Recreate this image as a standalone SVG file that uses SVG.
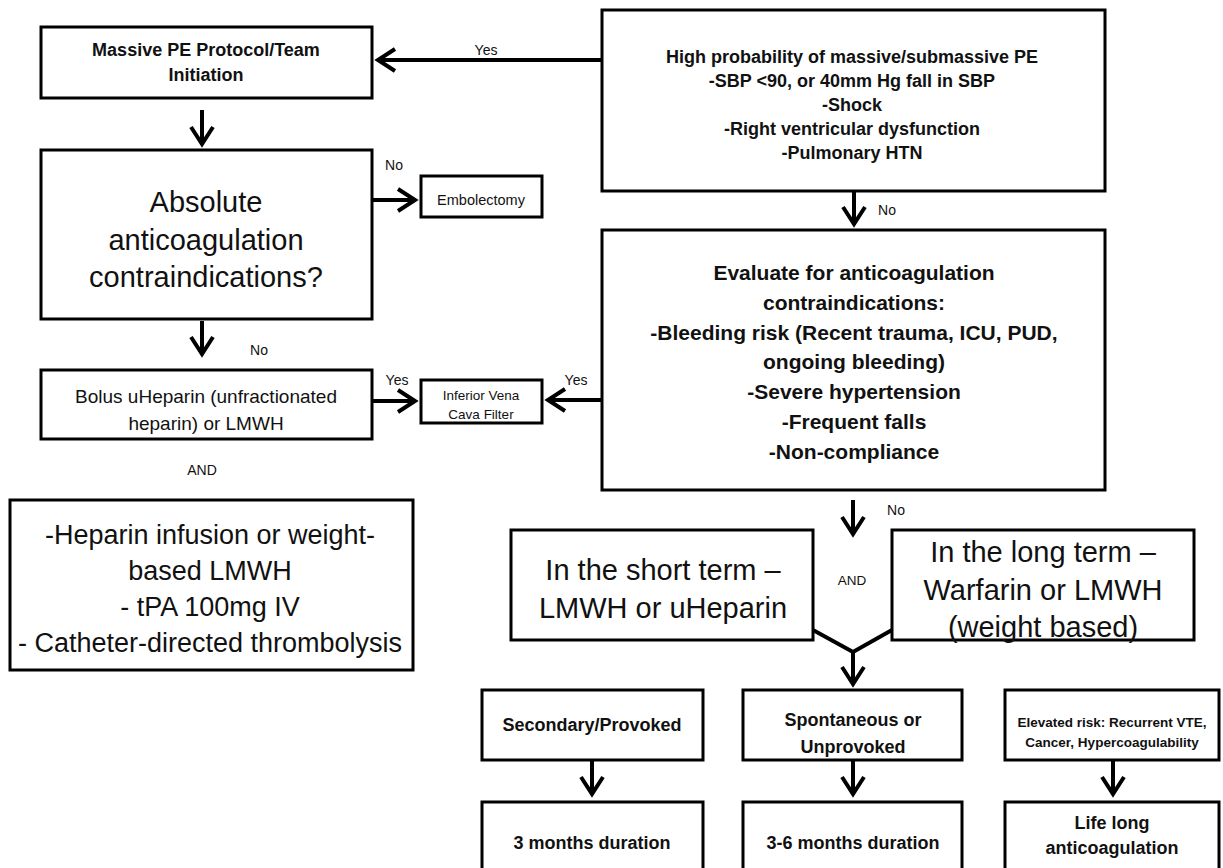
<svg xmlns="http://www.w3.org/2000/svg" width="1223" height="868" viewBox="0 0 1223 868">
  <style>
    .box { fill: #fff; stroke: #000; stroke-width: 3; }
    .t { font-family: "Liberation Sans", Arial, sans-serif; fill: #111; text-anchor: middle; }
    .b { font-weight: bold; }
    .lbl { font-family: "Liberation Sans", Arial, sans-serif; fill: #111; font-size: 14px; text-anchor: middle; }
    .wire { fill: none; stroke: #000; stroke-width: 4; }
  </style>
  <defs>
    <marker id="ah" viewBox="-20 -14 26 28" markerWidth="26" markerHeight="28" refX="0" refY="0" orient="auto" markerUnits="userSpaceOnUse">
      <path d="M-17,-11 L0,0 L-17,11" fill="none" stroke="#000" stroke-width="4" stroke-linejoin="miter"/>
    </marker>
  </defs>
  <rect width="1223" height="868" fill="#fff"/>

  <!-- connectors -->
  <g id="connectors">
    <line class="wire" x1="602" y1="60" x2="378" y2="60" marker-end="url(#ah)"/>
    <line class="wire" x1="202" y1="110" x2="202" y2="144" marker-end="url(#ah)"/>
    <line class="wire" x1="373" y1="200" x2="415" y2="200" marker-end="url(#ah)"/>
    <line class="wire" x1="202" y1="321" x2="202" y2="354" marker-end="url(#ah)"/>
    <line class="wire" x1="373" y1="401" x2="415" y2="401" marker-end="url(#ah)"/>
    <line class="wire" x1="601" y1="400" x2="548" y2="400" marker-end="url(#ah)"/>
    <line class="wire" x1="854" y1="192" x2="854" y2="224" marker-end="url(#ah)"/>
    <line class="wire" x1="853" y1="500" x2="853" y2="534" marker-end="url(#ah)"/>
    <polyline class="wire" points="813,630 853,652 892,630"/>
    <line class="wire" x1="853" y1="652" x2="853" y2="684" marker-end="url(#ah)"/>
    <line class="wire" x1="592" y1="761" x2="592" y2="794" marker-end="url(#ah)"/>
    <line class="wire" x1="853" y1="761" x2="853" y2="794" marker-end="url(#ah)"/>
    <line class="wire" x1="1113" y1="761" x2="1113" y2="794" marker-end="url(#ah)"/>

    <text class="lbl" x="486" y="55">Yes</text>
    <text class="lbl" x="394" y="170">No</text>
    <text class="lbl" x="259" y="355">No</text>
    <text class="lbl" x="397" y="385">Yes</text>
    <text class="lbl" x="576" y="385">Yes</text>
    <text class="lbl" x="202" y="475">AND</text>
    <text class="lbl" x="887" y="215">No</text>
    <text class="lbl" x="896" y="515">No</text>
    <text class="lbl" x="852" y="585" style="font-size:13.5px">AND</text>
  </g>

  <g id="massive-pe">
    <rect class="box" x="41" y="27" width="331" height="71"/>
    <text class="t b" font-size="18" x="206" y="56">Massive PE Protocol/Team</text>
    <text class="t b" font-size="18" x="206" y="81">Initiation</text>
  </g>

  <g id="high-probability">
    <rect class="box" x="602" y="10" width="503" height="181"/>
    <text class="t b" font-size="18" x="852" y="63">High probability of massive/submassive PE</text>
    <text class="t b" font-size="18" x="852" y="87">-SBP &lt;90, or 40mm Hg fall in SBP</text>
    <text class="t b" font-size="18" x="852" y="111">-Shock</text>
    <text class="t b" font-size="18" x="852" y="135">-Right ventricular dysfunction</text>
    <text class="t b" font-size="18" x="852" y="159">-Pulmonary HTN</text>
  </g>

  <g id="absolute-contraindications">
    <rect class="box" x="41" y="150" width="331" height="169"/>
    <text class="t" font-size="29" x="206" y="212">Absolute</text>
    <text class="t" font-size="29" x="206" y="250">anticoagulation</text>
    <text class="t" font-size="29" x="206" y="287">contraindications?</text>
  </g>

  <g id="embolectomy">
    <rect class="box" x="421" y="176" width="121" height="41"/>
    <text class="t" font-size="14.5" x="481" y="205">Embolectomy</text>
  </g>

  <g id="bolus">
    <rect class="box" x="41" y="370" width="331" height="69"/>
    <text class="t" font-size="19" x="206" y="403">Bolus uHeparin (unfractionated</text>
    <text class="t" font-size="19" x="206" y="430">heparin) or LMWH</text>
  </g>

  <g id="ivc-filter">
    <rect class="box" x="421" y="380" width="121" height="43"/>
    <text class="t" font-size="13.5" x="481" y="400">Inferior Vena</text>
    <text class="t" font-size="13.5" x="481" y="419">Cava Filter</text>
  </g>

  <g id="evaluate">
    <rect class="box" x="602" y="230" width="503" height="260"/>
    <text class="t b" font-size="21" x="854" y="280">Evaluate for anticoagulation</text>
    <text class="t b" font-size="21" x="854" y="310">contraindications:</text>
    <text class="t b" font-size="21" x="854" y="340">-Bleeding risk (Recent trauma, ICU, PUD,</text>
    <text class="t b" font-size="21" x="854" y="369">ongoing bleeding)</text>
    <text class="t b" font-size="21" x="854" y="399">-Severe hypertension</text>
    <text class="t b" font-size="21" x="854" y="429">-Frequent falls</text>
    <text class="t b" font-size="21" x="854" y="459">-Non-compliance</text>
  </g>

  <g id="heparin-infusion">
    <rect class="box" x="10" y="500" width="403" height="170"/>
    <text class="t" font-size="27" x="210" y="544">-Heparin infusion or weight-</text>
    <text class="t" font-size="27" x="210" y="580">based LMWH</text>
    <text class="t" font-size="27" x="210" y="616">- tPA 100mg IV</text>
    <text class="t" font-size="27" x="210" y="652">- Catheter-directed thrombolysis</text>
  </g>

  <g id="short-term">
    <rect class="box" x="511" y="530" width="302" height="110"/>
    <text class="t" font-size="29" x="663" y="580">In the short term –</text>
    <text class="t" font-size="29" x="663" y="618">LMWH or uHeparin</text>
  </g>

  <g id="long-term">
    <rect class="box" x="892" y="530" width="302" height="110"/>
    <text class="t" font-size="29" x="1043" y="562">In the long term –</text>
    <text class="t" font-size="29" x="1043" y="600">Warfarin or LMWH</text>
    <text class="t" font-size="29" x="1043" y="637">(weight based)</text>
  </g>

  <g id="secondary">
    <rect class="box" x="482" y="690" width="221" height="70"/>
    <text class="t b" font-size="18" x="592" y="731">Secondary/Provoked</text>
  </g>

  <g id="spontaneous">
    <rect class="box" x="743" y="690" width="219" height="70"/>
    <text class="t b" font-size="18" x="853" y="726">Spontaneous or</text>
    <text class="t b" font-size="18" x="853" y="753">Unprovoked</text>
  </g>

  <g id="elevated-risk">
    <rect class="box" x="1005" y="690" width="214" height="70"/>
    <text class="t b" font-size="13.5" x="1112" y="727">Elevated risk: Recurrent VTE,</text>
    <text class="t b" font-size="13.5" x="1112" y="747">Cancer, Hypercoagulability</text>
  </g>

  <g id="three-months">
    <rect class="box" x="482" y="802" width="221" height="80"/>
    <text class="t b" font-size="18" x="592" y="849">3 months duration</text>
  </g>

  <g id="three-six-months">
    <rect class="box" x="743" y="802" width="219" height="80"/>
    <text class="t b" font-size="18" x="853" y="849">3-6 months duration</text>
  </g>

  <g id="life-long">
    <rect class="box" x="1005" y="802" width="214" height="80"/>
    <text class="t b" font-size="18" x="1112" y="829">Life long</text>
    <text class="t b" font-size="18" x="1112" y="854">anticoagulation</text>
  </g>
</svg>
